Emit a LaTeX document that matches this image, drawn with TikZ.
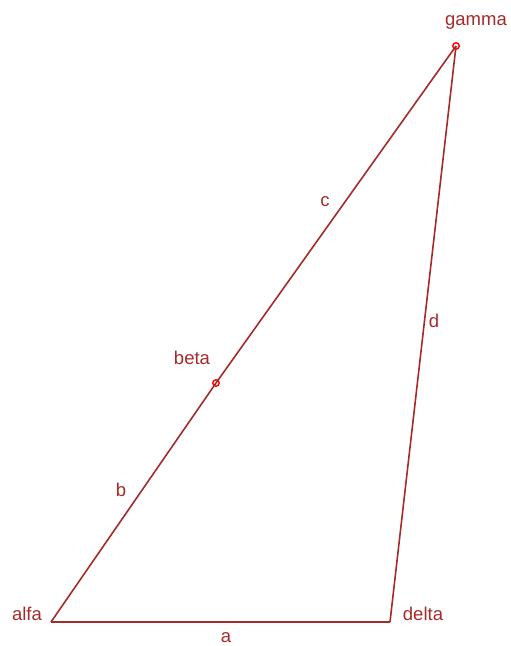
\documentclass[tikz,border=0pt]{standalone}
\usepackage{fontspec}
\setmainfont{Liberation Sans}
\usepackage{xcolor}
\usetikzlibrary{positioning}
\definecolor{edgebrown}{HTML}{A52A2A}

\begin{document}
\begin{tikzpicture}[x=1pt, y=-1pt]
  % Styles
  \tikzstyle{side} = [draw=edgebrown, line width=1.6pt]
  \tikzstyle{marker} = [circle, draw=red, line width=1.4pt, inner sep=0pt, minimum size=6.5pt]
  \tikzstyle{vlabel} = [text=edgebrown, font=\fontsize{18.5}{20}\selectfont, inner sep=0pt]

  \useasboundingbox (0,0) rectangle (511,646);

  % Vertices
  \coordinate (alfa) at (51,622);
  \coordinate (delta) at (390,622);
  \node[marker] (beta) at (216,383) {};
  \node[marker] (gamma) at (456,46) {};

  % Sides
  \draw[side] (alfa) -- (delta);
  \draw[side] (alfa) -- (beta.center);
  \draw[side] (beta.center) -- (gamma.center);
  \draw[side] (delta) -- (gamma.center);

  % Vertex names
  \node[vlabel] (alfalbl) at (27,614) {alfa};
  \node[vlabel] (deltalbl) at (423,614) {delta};
  \node[vlabel] (betalbl) at (192,358) {beta};
  \node[vlabel] (gammalbl) at (476,22) {gamma};

  % Side names
  \node[vlabel] (albl) at (226,638) {a};
  \node[vlabel] (blbl) at (121,490) {b};
  \node[vlabel] (clbl) at (325,202) {c};
  \node[vlabel] (dlbl) at (434,321) {d};
\end{tikzpicture}
\end{document}
